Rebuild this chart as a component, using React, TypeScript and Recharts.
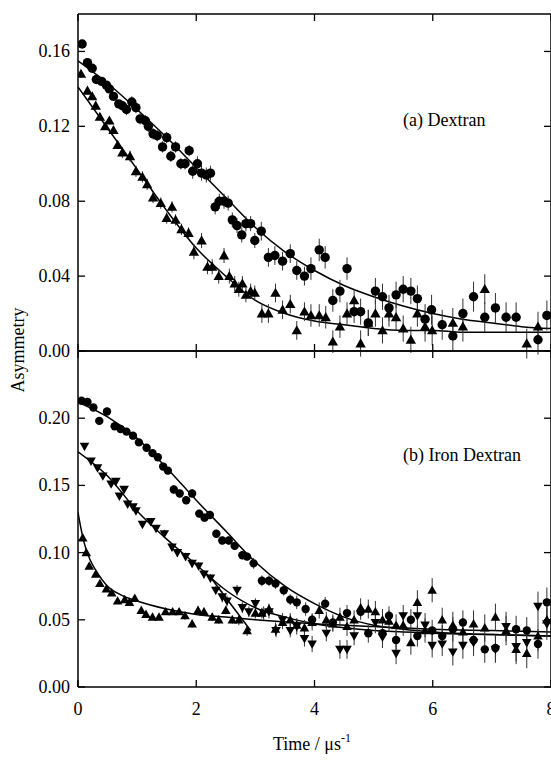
import React from 'react';
import { ComposedChart, Scatter, Line, XAxis, YAxis, ErrorBar } from 'recharts';

type Pt = [number, number, number];

const xTicks = [0, 2, 4, 6, 8];
const dextranTicks = [0, 0.04, 0.08, 0.12, 0.16];
const ironTicks = [0, 0.05, 0.1, 0.15, 0.2];

// (a) Dextran, circles: [time, asymmetry, error]
const dextranCircles: Pt[] = [
  [0.07, 0.164, 0.002], [0.16, 0.154, 0.002], [0.24, 0.151, 0.002], [0.31, 0.145, 0.002],
  [0.4, 0.144, 0.002], [0.48, 0.142, 0.002], [0.53, 0.14, 0.002], [0.6, 0.136, 0.002],
  [0.69, 0.132, 0.002], [0.75, 0.131, 0.002], [0.82, 0.129, 0.003], [0.91, 0.133, 0.003],
  [0.98, 0.13, 0.003], [1.05, 0.124, 0.003], [1.14, 0.123, 0.003], [1.19, 0.12, 0.003],
  [1.27, 0.116, 0.003], [1.34, 0.115, 0.003], [1.43, 0.109, 0.003], [1.5, 0.114, 0.003],
  [1.57, 0.104, 0.003], [1.65, 0.109, 0.003], [1.74, 0.1, 0.003], [1.81, 0.1, 0.003],
  [1.88, 0.107, 0.003], [1.94, 0.096, 0.004], [2.02, 0.1, 0.004], [2.09, 0.095, 0.004],
  [2.17, 0.094, 0.004], [2.24, 0.095, 0.004], [2.32, 0.077, 0.004], [2.39, 0.08, 0.004],
  [2.47, 0.08, 0.004], [2.54, 0.079, 0.004], [2.61, 0.07, 0.004], [2.69, 0.067, 0.004],
  [2.77, 0.062, 0.004], [2.84, 0.068, 0.004], [2.92, 0.068, 0.004], [2.99, 0.059, 0.004],
  [3.1, 0.064, 0.005], [3.22, 0.05, 0.005], [3.33, 0.051, 0.005], [3.46, 0.048, 0.005],
  [3.59, 0.052, 0.005], [3.7, 0.043, 0.005], [3.83, 0.04, 0.005], [3.94, 0.044, 0.006],
  [4.08, 0.054, 0.006], [4.18, 0.05, 0.006], [4.31, 0.027, 0.006], [4.43, 0.032, 0.006],
  [4.55, 0.044, 0.006], [4.67, 0.021, 0.006], [4.78, 0.021, 0.007], [4.91, 0.015, 0.007],
  [5.03, 0.032, 0.007], [5.15, 0.029, 0.007], [5.26, 0.023, 0.007], [5.38, 0.03, 0.007],
  [5.5, 0.033, 0.007], [5.63, 0.032, 0.007], [5.74, 0.028, 0.007], [5.87, 0.017, 0.008],
  [5.98, 0.022, 0.008], [6.16, 0.014, 0.008], [6.34, 0.008, 0.008], [6.51, 0.02, 0.008],
  [6.69, 0.029, 0.008], [6.88, 0.018, 0.008], [7.06, 0.023, 0.008], [7.24, 0.018, 0.008],
  [7.41, 0.018, 0.008], [7.78, 0.006, 0.008], [7.93, 0.019, 0.008],
];

// (a) Dextran, triangles
const dextranTriangles: Pt[] = [
  [0.05, 0.148, 0.002], [0.16, 0.139, 0.002], [0.24, 0.136, 0.002], [0.3, 0.131, 0.002],
  [0.37, 0.125, 0.002], [0.46, 0.12, 0.002], [0.53, 0.123, 0.002], [0.6, 0.118, 0.002],
  [0.67, 0.11, 0.002], [0.75, 0.106, 0.003], [0.88, 0.104, 0.003], [0.98, 0.096, 0.003],
  [1.09, 0.093, 0.003], [1.17, 0.089, 0.003], [1.27, 0.082, 0.003], [1.4, 0.079, 0.003],
  [1.5, 0.071, 0.003], [1.59, 0.077, 0.003], [1.65, 0.07, 0.003], [1.75, 0.065, 0.003],
  [1.87, 0.063, 0.003], [1.96, 0.053, 0.004], [2.09, 0.059, 0.004], [2.19, 0.045, 0.004],
  [2.27, 0.045, 0.004], [2.38, 0.04, 0.004], [2.47, 0.051, 0.004], [2.56, 0.04, 0.004],
  [2.65, 0.036, 0.004], [2.72, 0.033, 0.004], [2.78, 0.036, 0.004], [2.84, 0.03, 0.004],
  [2.92, 0.032, 0.004], [2.99, 0.031, 0.004], [3.11, 0.02, 0.005], [3.22, 0.02, 0.005],
  [3.34, 0.031, 0.005], [3.46, 0.022, 0.005], [3.59, 0.025, 0.005], [3.7, 0.011, 0.005],
  [3.83, 0.021, 0.005], [3.94, 0.019, 0.006], [4.08, 0.019, 0.006], [4.19, 0.018, 0.006],
  [4.31, 0.005, 0.006], [4.43, 0.013, 0.006], [4.55, 0.02, 0.006], [4.67, 0.027, 0.006],
  [4.78, 0.004, 0.007], [4.91, 0.015, 0.007], [5.03, 0.02, 0.007], [5.15, 0.011, 0.007],
  [5.26, 0.02, 0.007], [5.38, 0.018, 0.007], [5.5, 0.012, 0.007], [5.63, 0.006, 0.007],
  [5.74, 0.02, 0.007], [5.87, 0.013, 0.008], [5.99, 0.011, 0.008], [6.34, 0.015, 0.008],
  [6.51, 0.013, 0.008], [6.88, 0.033, 0.008], [7.59, 0.004, 0.008], [7.78, 0.013, 0.008],
];

const dextranFitTimes = [0, 0.5, 1, 1.5, 2, 2.5, 3, 3.5, 4, 4.5, 5, 5.5, 6, 6.5, 7, 7.5, 8];
const dextranFitCircles = [0.155, 0.143, 0.129, 0.114, 0.098, 0.082, 0.066, 0.053, 0.043, 0.035, 0.029, 0.024, 0.02, 0.017, 0.015, 0.013, 0.012];
const dextranFitTriangles = [0.141, 0.119, 0.097, 0.075, 0.055, 0.04, 0.027, 0.02, 0.016, 0.014, 0.012, 0.011, 0.011, 0.01, 0.01, 0.01, 0.01];

// (b) Iron Dextran, circles
const ironCircles: Pt[] = [
  [0.06, 0.213, 0.002], [0.16, 0.212, 0.002], [0.26, 0.208, 0.002], [0.36, 0.198, 0.002],
  [0.49, 0.205, 0.002], [0.62, 0.194, 0.002], [0.72, 0.192, 0.002], [0.82, 0.19, 0.002],
  [0.93, 0.187, 0.002], [1.03, 0.182, 0.002], [1.16, 0.178, 0.002], [1.26, 0.174, 0.002],
  [1.35, 0.171, 0.002], [1.44, 0.164, 0.002], [1.52, 0.161, 0.002], [1.62, 0.147, 0.003],
  [1.72, 0.144, 0.003], [1.83, 0.139, 0.003], [1.93, 0.144, 0.003], [2.05, 0.129, 0.003],
  [2.14, 0.126, 0.003], [2.23, 0.128, 0.003], [2.34, 0.114, 0.003], [2.44, 0.109, 0.003],
  [2.55, 0.109, 0.003], [2.65, 0.105, 0.003], [2.78, 0.098, 0.003], [2.86, 0.097, 0.003],
  [2.97, 0.092, 0.004], [3.11, 0.079, 0.004], [3.23, 0.079, 0.004], [3.34, 0.077, 0.004],
  [3.48, 0.072, 0.004], [3.59, 0.065, 0.004], [3.7, 0.063, 0.005], [3.85, 0.058, 0.005],
  [3.96, 0.05, 0.005], [4.18, 0.062, 0.005], [4.31, 0.048, 0.006], [4.55, 0.055, 0.006],
  [4.78, 0.056, 0.006], [4.91, 0.04, 0.007], [5.15, 0.04, 0.007], [5.26, 0.053, 0.007],
  [5.38, 0.035, 0.007], [5.63, 0.05, 0.008], [5.74, 0.038, 0.008], [5.99, 0.042, 0.008],
  [6.16, 0.038, 0.008], [6.34, 0.043, 0.009], [6.51, 0.048, 0.009], [6.69, 0.035, 0.009],
  [6.88, 0.028, 0.01], [7.06, 0.029, 0.01], [7.41, 0.043, 0.01], [7.59, 0.042, 0.01],
  [7.78, 0.032, 0.011], [7.93, 0.063, 0.011],
];

// (b) Iron Dextran, down triangles
const ironDown: Pt[] = [
  [0.11, 0.179, 0.002], [0.22, 0.168, 0.002], [0.33, 0.163, 0.002], [0.42, 0.157, 0.002],
  [0.56, 0.151, 0.002], [0.64, 0.153, 0.002], [0.7, 0.142, 0.002], [0.78, 0.147, 0.002],
  [0.84, 0.136, 0.002], [0.93, 0.134, 0.002], [0.98, 0.131, 0.002], [1.09, 0.121, 0.002],
  [1.23, 0.123, 0.002], [1.32, 0.118, 0.002], [1.46, 0.114, 0.003], [1.59, 0.104, 0.003],
  [1.68, 0.1, 0.003], [1.82, 0.097, 0.003], [1.93, 0.092, 0.003], [2.04, 0.09, 0.003],
  [2.13, 0.084, 0.003], [2.24, 0.081, 0.003], [2.33, 0.072, 0.003], [2.44, 0.067, 0.004],
  [2.52, 0.064, 0.004], [2.69, 0.072, 0.004], [2.78, 0.059, 0.004], [2.89, 0.056, 0.004],
  [3.0, 0.062, 0.004], [3.14, 0.055, 0.005], [3.23, 0.056, 0.005], [3.35, 0.042, 0.005],
  [3.46, 0.05, 0.005], [3.59, 0.042, 0.005], [3.7, 0.045, 0.006], [3.83, 0.036, 0.006],
  [3.96, 0.032, 0.006], [4.2, 0.04, 0.006], [4.43, 0.028, 0.007], [4.55, 0.028, 0.007],
  [4.67, 0.038, 0.007], [5.03, 0.048, 0.008], [5.15, 0.037, 0.008], [5.38, 0.025, 0.008],
  [5.5, 0.053, 0.008], [5.74, 0.053, 0.009], [5.87, 0.046, 0.009], [5.99, 0.031, 0.009],
  [6.16, 0.032, 0.009], [6.34, 0.026, 0.01], [6.51, 0.031, 0.01], [6.69, 0.033, 0.01],
  [7.06, 0.028, 0.01], [7.24, 0.045, 0.011], [7.41, 0.03, 0.011], [7.59, 0.033, 0.011],
  [7.78, 0.06, 0.011], [7.93, 0.047, 0.012],
];

// (b) Iron Dextran, up triangles
const ironUp: Pt[] = [
  [0.08, 0.111, 0.002], [0.14, 0.1, 0.002], [0.19, 0.09, 0.002], [0.3, 0.084, 0.002],
  [0.37, 0.077, 0.002], [0.48, 0.073, 0.002], [0.57, 0.07, 0.002], [0.67, 0.064, 0.002],
  [0.79, 0.065, 0.002], [0.87, 0.063, 0.002], [0.96, 0.066, 0.002], [1.07, 0.057, 0.002],
  [1.15, 0.054, 0.002], [1.26, 0.052, 0.002], [1.37, 0.052, 0.002], [1.48, 0.056, 0.002],
  [1.6, 0.056, 0.002], [1.71, 0.056, 0.002], [1.81, 0.053, 0.003], [1.93, 0.047, 0.003],
  [2.03, 0.057, 0.003], [2.13, 0.056, 0.003], [2.27, 0.052, 0.003], [2.38, 0.05, 0.003],
  [2.5, 0.057, 0.003], [2.61, 0.05, 0.003], [2.72, 0.05, 0.004], [2.86, 0.042, 0.004],
  [3.0, 0.055, 0.004], [3.11, 0.055, 0.004], [3.23, 0.058, 0.004], [3.34, 0.043, 0.005],
  [3.46, 0.048, 0.005], [3.59, 0.05, 0.005], [3.7, 0.046, 0.005], [3.83, 0.044, 0.006],
  [3.96, 0.048, 0.006], [4.08, 0.057, 0.006], [4.2, 0.05, 0.006], [4.31, 0.047, 0.006],
  [4.43, 0.052, 0.007], [4.55, 0.045, 0.007], [4.67, 0.05, 0.007], [4.78, 0.059, 0.007],
  [4.91, 0.058, 0.007], [5.03, 0.056, 0.008], [5.15, 0.05, 0.008], [5.26, 0.049, 0.008],
  [5.38, 0.046, 0.008], [5.5, 0.046, 0.008], [5.63, 0.033, 0.009], [5.74, 0.063, 0.009],
  [5.87, 0.042, 0.009], [5.99, 0.072, 0.009], [6.16, 0.05, 0.009], [6.34, 0.046, 0.01],
  [6.51, 0.041, 0.01], [6.69, 0.047, 0.01], [6.88, 0.044, 0.01], [7.06, 0.052, 0.01],
  [7.24, 0.042, 0.011], [7.41, 0.028, 0.011], [7.59, 0.025, 0.011], [7.78, 0.038, 0.011],
  [7.93, 0.05, 0.012],
];

const ironFitTimes = [0, 0.5, 1, 1.5, 2, 2.5, 3, 3.5, 4, 4.5, 5, 5.5, 6, 7, 8];
const ironFitCircles = [0.212, 0.201, 0.185, 0.163, 0.139, 0.116, 0.093, 0.075, 0.062, 0.052, 0.046, 0.043, 0.041, 0.039, 0.038];
const ironFitDown = [0.175, 0.157, 0.131, 0.11, 0.091, 0.072, 0.059, 0.052, 0.047, 0.044, 0.042, 0.041, 0.04, 0.039, 0.038];
const ironFitUpTimes = [0, 0.05, 0.1, 0.2, 0.3, 0.5, 0.75, 1, 1.5, 2, 2.5, 3, 4, 5, 6, 7, 8];
const ironFitUp = [0.13, 0.118, 0.108, 0.095, 0.087, 0.075, 0.068, 0.064, 0.058, 0.054, 0.052, 0.05, 0.047, 0.045, 0.043, 0.042, 0.041];
// short straight stroke that crosses the curves near 2.3-2.9 us
const ironStrayTimes = [2.27, 2.92];
const ironStray = [0.08, 0.042];

const FONT = '"Liberation Serif", "Times New Roman", serif';

const toPts = (rows: Pt[]) => rows.map(([x, y, e]) => ({ x, y, e }));
const toFit = (xs: number[], ys: number[]) => xs.map((x, i) => ({ x, y: ys[i] }));

const circle = (r: number) => (p: any) => <circle cx={p.cx} cy={p.cy} r={r} fill="#000" />;
const triUp = (s: number) => (p: any) => (
  <polygon points={`${p.cx},${p.cy - s} ${p.cx - s},${p.cy + s * 0.75} ${p.cx + s},${p.cy + s * 0.75}`} fill="#000" />
);
const triDown = (s: number) => (p: any) => (
  <polygon points={`${p.cx},${p.cy + s} ${p.cx - s},${p.cy - s * 0.75} ${p.cx + s},${p.cy - s * 0.75}`} fill="#000" />
);

const LeftTick = (p: any) => (
  <g>
    <line x1={p.x} x2={p.x + 7} y1={p.y} y2={p.y} stroke="#000" strokeWidth={1.3} />
    <text x={p.x - 8} y={p.y + 6} textAnchor="end" fontFamily={FONT} fontSize={18} fill="#000">
      {Number(p.payload.value).toFixed(2)}
    </text>
  </g>
);
const RightTick = (p: any) => (
  <line x1={p.x - 7} x2={p.x} y1={p.y} y2={p.y} stroke="#000" strokeWidth={1.3} />
);
const TopTick = (p: any) => (
  <line x1={p.x} x2={p.x} y1={p.y} y2={p.y + 7} stroke="#000" strokeWidth={1.3} />
);
const BottomTickBare = (p: any) => (
  <line x1={p.x} x2={p.x} y1={p.y} y2={p.y - 7} stroke="#000" strokeWidth={1.3} />
);
const BottomTickLabel = (p: any) => (
  <g>
    <line x1={p.x} x2={p.x} y1={p.y} y2={p.y - 7} stroke="#000" strokeWidth={1.3} />
    <text x={p.x} y={p.y + 28} textAnchor="middle" fontFamily={FONT} fontSize={18} fill="#000">
      {p.payload.value}
    </text>
  </g>
);

const axisLine = { stroke: '#000', strokeWidth: 1.5 };

function Panel({
  yMax, yTicks, series, fits, labelled,
}: {
  yMax: number;
  yTicks: number[];
  series: { data: Pt[]; shape: any }[];
  fits: { x: number[]; y: number[]; type?: 'monotone' | 'linear' }[];
  labelled: boolean;
}) {
  const height = labelled ? 421 : 361;
  // the extra axes are 1px thick so they get drawn; margins make up for it
  const margin = labelled
    ? { top: 9, right: 48, bottom: 74, left: 0 }
    : { top: 13, right: 48, bottom: 9, left: 0 };
  return (
    <ComposedChart width={600} height={height} margin={margin}>
      <XAxis xAxisId="b" type="number" dataKey="x" domain={[0, 8]} ticks={xTicks} height={1}
        allowDataOverflow tickSize={0} tickMargin={0} tickLine={false} axisLine={axisLine}
        tick={labelled ? BottomTickLabel : BottomTickBare} interval={0} />
      <XAxis xAxisId="t" orientation="top" type="number" dataKey="x" domain={[0, 8]} ticks={xTicks} height={1}
        allowDataOverflow tickSize={0} tickMargin={0} tickLine={false} axisLine={axisLine}
        tick={TopTick} interval={0} />
      <YAxis yAxisId="l" type="number" dataKey="y" domain={[0, yMax]} ticks={yTicks} width={78}
        allowDataOverflow tickSize={0} tickMargin={0} tickLine={false} axisLine={axisLine}
        tick={LeftTick} interval={0} />
      <YAxis yAxisId="r" orientation="right" type="number" dataKey="y" domain={[0, yMax]} ticks={yTicks} width={1}
        allowDataOverflow tickSize={0} tickMargin={0} tickLine={false} axisLine={axisLine}
        tick={RightTick} interval={0} />
      {fits.map((f, i) => (
        <Line key={`f${i}`} xAxisId="b" yAxisId="l" data={toFit(f.x, f.y)} dataKey="y" type={f.type ?? 'monotone'}
          stroke="#000" strokeWidth={1.5} dot={false} activeDot={false} isAnimationActive={false} />
      ))}
      {series.map((s, i) => (
        <Scatter key={`s${i}`} xAxisId="b" yAxisId="l" data={toPts(s.data)} dataKey="y" shape={s.shape}
          isAnimationActive={false}>
          <ErrorBar dataKey="e" direction="y" width={0} stroke="#333" strokeWidth={1} />
        </Scatter>
      ))}
    </ComposedChart>
  );
}

export default function App() {
  return (
    <div style={{ position: 'absolute', left: 0, top: 0, width: 551, height: 762, overflow: 'hidden', background: '#fff' }}>
      <div style={{ position: 'absolute', left: 0, top: 341 }}>
        <Panel
          yMax={0.25}
          yTicks={ironTicks}
          labelled
          series={[
            { data: ironCircles, shape: circle(4.2) },
            { data: ironDown, shape: triDown(4.8) },
            { data: ironUp, shape: triUp(4.8) },
          ]}
          fits={[
            { x: ironFitTimes, y: ironFitCircles },
            { x: ironFitTimes, y: ironFitDown },
            { x: ironFitUpTimes, y: ironFitUp },
            { x: ironStrayTimes, y: ironStray, type: 'linear' },
          ]}
        />
      </div>
      <div style={{ position: 'absolute', left: 0, top: 0 }}>
        <Panel
          yMax={0.18}
          yTicks={dextranTicks}
          labelled={false}
          series={[
            { data: dextranCircles, shape: circle(4.7) },
            { data: dextranTriangles, shape: triUp(5.2) },
          ]}
          fits={[
            { x: dextranFitTimes, y: dextranFitCircles },
            { x: dextranFitTimes, y: dextranFitTriangles },
          ]}
        />
      </div>
      <svg width={551} height={762} style={{ position: 'absolute', left: 0, top: 0, pointerEvents: 'none' }}>
        <text x={403} y={126} fontFamily={FONT} fontSize={18} fill="#000">(a) Dextran</text>
        <text x={403} y={461} fontFamily={FONT} fontSize={18} fill="#000">(b) Iron Dextran</text>
        <text x={24} y={350} transform="rotate(-90 24 350)" textAnchor="middle" fontFamily={FONT} fontSize={18} fill="#000">
          Asymmetry
        </text>
        <text x={273} y={750} fontFamily={FONT} fontSize={18} fill="#000">
          Time / μs<tspan fontSize={12} dy={-8}>-1</tspan>
        </text>
      </svg>
    </div>
  );
}
